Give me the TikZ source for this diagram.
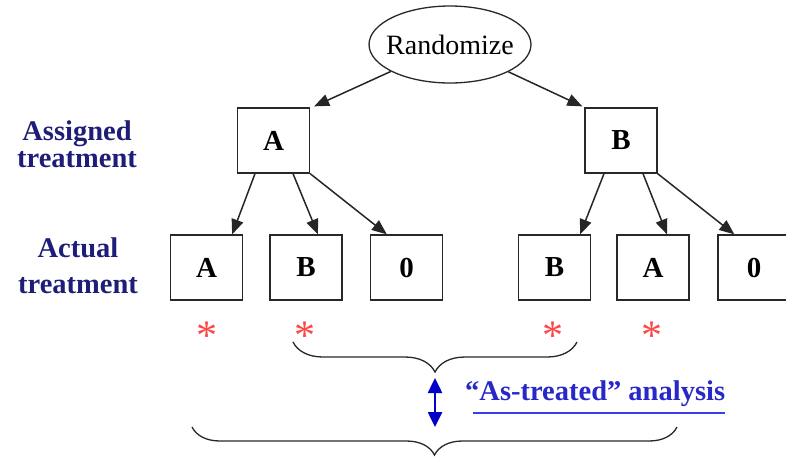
\documentclass[tikz,border=0pt]{standalone}
\usepackage{fontspec}
\setmainfont{Liberation Serif}
\usetikzlibrary{arrows.meta,decorations.pathreplacing,shapes.geometric}
\definecolor{navy}{RGB}{30,30,120}
\definecolor{txtblue}{RGB}{40,40,200}
\definecolor{arrblue}{RGB}{0,0,200}
\definecolor{ulblue}{RGB}{60,60,235}
\definecolor{starred}{RGB}{255,70,70}
\definecolor{linegray}{RGB}{40,40,40}
\begin{document}
\begin{tikzpicture}[x=1pt,y=-1pt,
  box/.style={draw=linegray,line width=1.3pt,minimum width=72pt,minimum height=65pt,inner sep=0pt,
    font=\fontsize{29}{29}\selectfont\bfseries},
  conn/.style={draw=black!85,line width=1.5pt,-{Triangle[length=15pt,width=12pt]}},
  lbl/.style={text=navy,align=center,inner sep=0pt,font=\fontsize{28.5}{27}\selectfont\bfseries},
  star/.style={text=starred,inner sep=0pt,anchor=base,font=\fontsize{42}{42}\selectfont},
  bracestyle/.style={draw=linegray,line width=1.3pt,decorate}]
\useasboundingbox (0,0) rectangle (786,459);
% root
\node[ellipse,draw=linegray,line width=1.3pt,minimum width=156pt,minimum height=77pt,inner xsep=-6.5pt,inner ysep=0pt,
  font=\fontsize{28}{28}\selectfont] (rnd) at (450,44.5) {Randomize};
% assigned
\node[box] (aA) at (273.5,140.5) {A};
\node[box] (aB) at (621,140.5) {B};
% actual
\node[box] (cA1) at (206.5,267.5) {A};
\node[box] (cB1) at (306,267.5) {B};
\node[box] (c01) at (406.5,267.5) {0};
\node[box] (cB2) at (554.5,267.5) {B};
\node[box] (cA2) at (653,267.5) {A};
\node[box] (c02) at (754,267.5) {0};
% labels
\node[lbl] (lasg) at (77,144) {Assigned\\treatment};
\node[lbl,font=\fontsize{28.5}{36}\selectfont\bfseries] (lact) at (78,266) {Actual\\treatment};
% arrows
\draw[conn] (rnd) -- ([xshift=4pt,yshift=1pt]aA.north east);
\draw[conn] (rnd) -- ([xshift=-2pt,yshift=1pt]aB.north west);
\draw[conn] ([xshift=-18.5pt]aA.south) -- ([xshift=-11pt]cA1.north east);
\draw[conn] ([xshift=19.5pt]aA.south) -- ([xshift=12pt]cB1.north);
\draw[conn] (aA.south east) -- ([xshift=17pt]c01.north west);
\draw[conn] ([xshift=-17pt]aB.south) -- ([xshift=-11pt]cB2.north east);
\draw[conn] ([xshift=22pt]aB.south) -- ([xshift=14pt]cA2.north);
\draw[conn] (aB.south east) -- ([xshift=17pt]c02.north west);
% asterisks
\node[star] (s1) at (207,349) {*};
\node[star] (s2) at (305,349) {*};
\node[star] (s3) at (553,349) {*};
\node[star] (s4) at (652,349) {*};
% braces
\coordinate (b1r) at (577,342);
\coordinate (b1l) at (293,342);
\coordinate (b2r) at (677,427);
\coordinate (b2l) at (192,427);
\draw[bracestyle,decoration={brace,amplitude=30pt}] (b1r) -- (b1l);
\draw[bracestyle,decoration={brace,amplitude=28pt}] (b2r) -- (b2l);
% double arrow
\coordinate (dtop) at (435,378);
\coordinate (dbot) at (435,427);
\draw[arrblue,line width=2.5pt,{Triangle[length=15pt,width=14pt]}-{Triangle[length=15pt,width=14pt]}] (dtop) -- (dbot);
% analysis text
\node[text=txtblue,inner sep=0pt,anchor=base west,font=\fontsize{28.5}{28.5}\selectfont\bfseries] (ana) at (465,400) {“As-treated” analysis};
\draw[ulblue,line width=2pt] ([xshift=8pt]ana.base west) ++(0,13) coordinate (ul1) -- ([yshift=-13pt]ana.base east);
\end{tikzpicture}
\end{document}
